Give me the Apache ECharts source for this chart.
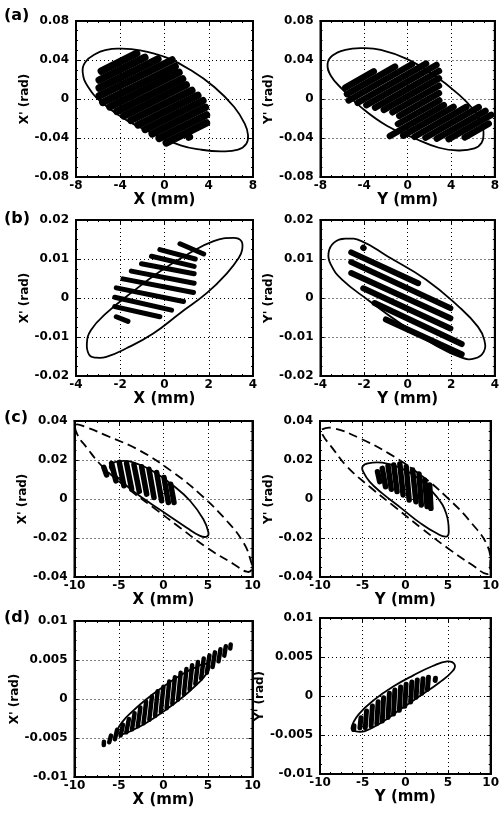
<!DOCTYPE html>
<html>
<head>
<meta charset="utf-8">
<script src="https://cdn.jsdelivr.net/npm/echarts@6/dist/echarts.min.js"></script>
<style>
html, body { margin: 0; background: #fff; }
#main { width: 502px; height: 813px; }
</style>
</head>
<body>
<div id="main"></div>
<script>
// tick values for each row of panels
var xTicksA = [-8, -4, 0, 4, 8];
var yTicksA = [-0.08, -0.04, 0, 0.04, 0.08];
var xTicksB = [-4, -2, 0, 2, 4];
var yTicksB = [-0.02, -0.01, 0, 0.01, 0.02];
var xTicksC = [-10, -5, 0, 5, 10];
var yTicksC = [-0.04, -0.02, 0, 0.02, 0.04];
var xTicksD = [-10, -5, 0, 5, 10];
var yTicksD = [-0.01, -0.005, 0, 0.005, 0.01];

// ellipse outlines, points read around the curve (mm, rad)
var ellipseAL = [[-4.2, 0.0516], [-2.2, 0.0499], [0.2, 0.0424], [2.4, 0.0294], [4.5, 0.0123], [6.3, -0.0082], [7.25, -0.0253], [7.55, -0.037], [7.4, -0.0458], [6.65, -0.052], [5.1, -0.0537], [3.3, -0.052], [1.45, -0.0475], [-1.0, -0.0356], [-3.4, -0.0219], [-5.55, -0.0048], [-6.9, 0.0123], [-7.4, 0.0277], [-7.15, 0.038], [-6.2, 0.0465], [-5.25, 0.0503]];
var ellipseAR = [[-4.24, 0.0521], [-2.46, 0.0504], [-0.09, 0.0411], [2.28, 0.0256], [4.65, 0.005], [6.13, -0.0122], [6.87, -0.0277], [6.96, -0.0363], [6.79, -0.0449], [6.13, -0.0507], [4.65, -0.0528], [2.87, -0.05], [0.5, -0.0397], [-1.87, -0.0277], [-4.24, -0.0088], [-6.01, 0.0102], [-7.05, 0.0239], [-7.35, 0.036], [-6.9, 0.0446], [-5.72, 0.0504]];
var ellipseBL = [[3.13, 0.0154], [3.47, 0.0146], [3.51, 0.0124], [3.36, 0.0103], [2.83, 0.0064], [1.92, 0.0013], [0.7, -0.0039], [-0.51, -0.0091], [-1.72, -0.0129], [-2.63, -0.0151], [-3.09, -0.0153], [-3.39, -0.0147], [-3.51, -0.0117], [-3.32, -0.0082], [-2.63, -0.0039], [-1.42, 0.0017], [-0.21, 0.0068], [1.01, 0.0111], [2.22, 0.0146]];
var ellipseBR = [[-3.63, 0.0116], [-3.38, 0.0142], [-2.86, 0.0152], [-2.12, 0.0146], [-0.93, 0.0107], [0.85, 0.0047], [2.34, -0.0022], [3.23, -0.0074], [3.52, -0.0108], [3.49, -0.0138], [3.08, -0.0155], [2.48, -0.0153], [1.15, -0.0117], [-0.34, -0.0065], [-1.82, -0.0005], [-3.01, 0.0047], [-3.53, 0.0086]];
var ellipseCLin = [[-6.02, 0.017], [-5.08, 0.0193], [-3.4, 0.0188], [-1.14, 0.0141], [1.11, 0.0068], [2.98, -0.0009], [4.48, -0.0104], [5.05, -0.0172], [4.86, -0.0193], [4.11, -0.0189], [2.61, -0.0147], [0.36, -0.0078], [-1.89, -0.0009], [-4.15, 0.0068], [-5.65, 0.0136]];
var ellipseCLout = [[-9.85, 0.0381], [-8.65, 0.0367], [-6.4, 0.0325], [-2.65, 0.0248], [1.11, 0.0136], [4.11, 0.0025], [7.11, -0.0112], [8.99, -0.0224], [9.81, -0.0318], [9.92, -0.0361], [9.36, -0.0373], [7.86, -0.0333], [4.86, -0.0249], [1.86, -0.0147], [-1.14, -0.0044], [-4.15, 0.0059], [-6.77, 0.0162], [-8.65, 0.0265], [-9.7, 0.0333]];
var ellipseCRin = [[-5.02, 0.0166], [-4.38, 0.0183], [-2.7, 0.0186], [-0.45, 0.0157], [1.8, 0.0097], [3.67, 0.0012], [4.79, -0.0074], [5.09, -0.0168], [4.79, -0.0193], [3.67, -0.0176], [1.8, -0.0125], [-0.45, -0.0048], [-2.7, 0.0029], [-4.19, 0.0089], [-4.94, 0.014]];
var ellipseCRout = [[-9.74, 0.0357], [-8.31, 0.0362], [-5.32, 0.0311], [-1.95, 0.0234], [1.8, 0.0123], [4.79, 0.0012], [7.79, -0.0125], [9.66, -0.0244], [9.95, -0.0347], [9.6, -0.0385], [7.9, -0.034], [4.9, -0.025], [1.9, -0.015], [-1.1, -0.0045], [-4.1, 0.006], [-6.8, 0.0165], [-8.7, 0.027], [-9.7, 0.033]];
var ellipseDL = [[-5.2, -0.0042], [-4.6, -0.0029], [-3.5, -0.0016], [-2.0, -0.0001], [0, 0.0016], [2.0, 0.0031], [3.5, 0.004], [4.6, 0.0045], [5.2, 0.0042], [4.6, 0.0029], [3.5, 0.0016], [2.0, 0.0001], [0, -0.0016], [-2.0, -0.0031], [-3.5, -0.004], [-4.6, -0.0045]];
var ellipseDR = [[-6.3, -0.00406], [-5.47, -0.00235], [-3.58, -0.00043], [-1.32, 0.00128], [0.94, 0.00265], [3.21, 0.00385], [4.91, 0.00444], [5.77, 0.00406], [5.55, 0.0032], [3.96, 0.00171], [1.7, 0], [-0.57, -0.00171], [-2.83, -0.00342], [-4.72, -0.00449], [-5.92, -0.00449]];

// beamlet streaks: [x1, y1, x2, y2]
var streaksAL = [[-5.71, 0.0287, -2.52, 0.0467], [-5.9, 0.0195, -1.78, 0.0426], [-5.9, 0.0113, -0.6, 0.041], [-5.9, 0.0031, 0.68, 0.04], [-5.58, -0.0034, 0.96, 0.0333], [-4.94, -0.008, 1.31, 0.0272], [-4.3, -0.0126, 1.63, 0.0207], [-3.67, -0.0172, 1.96, 0.0144], [-3.03, -0.0218, 2.47, 0.0089], [-2.39, -0.0265, 3.01, 0.0038], [-1.75, -0.0311, 3.47, -0.0018], [-1.11, -0.0357, 3.7, -0.0087], [-0.48, -0.0404, 3.79, -0.0164], [0.16, -0.045, 3.79, -0.0246], [2.2, -0.039, 2.25, -0.0388]];
var streaksAR = [[-5.72, 0.0117, -3.11, 0.0284], [-5.57, 0.005, -1.16, 0.0332], [-5.42, -0.0015, 0.39, 0.0356], [-4.59, -0.0039, 1.69, 0.0363], [-3.79, -0.0063, 2.64, 0.0349], [-2.99, -0.0088, 2.87, 0.0287], [-2.19, -0.0112, 2.87, 0.0212], [-1.39, -0.0136, 2.87, 0.0136], [-0.77, -0.0173, 2.87, 0.006], [-0.89, -0.0256, 2.9, -0.0015], [-1.63, -0.038, 3.32, -0.0063], [-0.41, -0.0376, 4.21, -0.0081], [0.62, -0.0387, 5.39, -0.0081], [1.63, -0.0397, 6.52, -0.0084], [2.67, -0.0407, 7.14, -0.0122], [3.76, -0.0411, 7.67, -0.0163], [5.24, -0.0394, 7.44, -0.0253]];
var streaksBL = [[-2.18, -0.0048, -1.65, -0.006], [-2.25, -0.0022, -0.21, -0.0048], [-2.25, 0.0002, 0.32, -0.0031], [-2.18, 0.0026, 0.86, -0.0009], [-1.88, 0.0049, 1.31, 0.0014], [-1.5, 0.0069, 1.34, 0.0038], [-1.04, 0.0088, 1.34, 0.0062], [-0.59, 0.0107, 1.34, 0.0081], [-0.21, 0.0124, 1.39, 0.01], [0.7, 0.0139, 1.77, 0.0113]];
var streaksBR = [[-2.59, 0.0117, 0.48, 0.0038], [-2.59, 0.0092, 1.96, -0.0026], [-2.59, 0.0064, 1.96, -0.0052], [-2.04, 0.0025, 1.96, -0.0078], [-1.52, -0.0013, 2.48, -0.0118], [-1.0, -0.0055, 2.48, -0.0144], [-2.04, 0.0129, -2.02, 0.0128]];
var streaksCL = [[-6.7, 0.0162, -6.4, 0.0124], [-5.83, 0.0182, -5.35, 0.0093], [-4.97, 0.0188, -4.45, 0.0068], [-4.15, 0.0182, -3.58, 0.0051], [-3.32, 0.0176, -2.72, 0.0039], [-2.46, 0.0165, -1.89, 0.0025], [-1.63, 0.0153, -1.07, 0.0008], [-0.77, 0.0136, -0.21, -0.0009], [0.06, 0.011, 0.54, -0.0018], [0.81, 0.0076, 1.18, -0.0018]];
var streaksCR = [[-3.26, 0.014, -3.0, 0.0089], [-2.7, 0.0157, -2.32, 0.0063], [-2.02, 0.0169, -1.65, 0.005], [-1.35, 0.0174, -0.97, 0.0038], [-0.64, 0.0179, -0.26, 0.0021], [0.11, 0.0166, 0.45, -0.0005], [0.86, 0.0149, 1.24, -0.0014], [1.61, 0.0128, 1.87, -0.0031], [2.28, 0.0097, 2.55, -0.0039], [2.85, 0.0072, 3.0, -0.0048]];
var streaksDL = [[-6.71, -0.0059, -6.69, -0.00548], [-6.1, -0.00555, -5.9, -0.00469], [-5.46, -0.00516, -5.22, -0.00396], [-4.82, -0.00467, -4.56, -0.00331], [-4.18, -0.00427, -3.89, -0.00257], [-3.54, -0.00389, -3.25, -0.00183], [-2.89, -0.0035, -2.6, -0.0011], [-2.24, -0.0031, -1.95, -0.00036], [-1.59, -0.00267, -1.3, 0.00033], [-0.95, -0.00218, -0.66, 0.00098], [-0.3, -0.00166, -0.01, 0.00158], [0.35, -0.00119, 0.64, 0.00223], [0.99, -0.00062, 1.28, 0.0028], [1.64, -0.00006, 1.93, 0.00336], [2.29, 0.0006, 2.58, 0.00384], [2.93, 0.00124, 3.22, 0.00432], [3.58, 0.00193, 3.87, 0.00475], [4.23, 0.00263, 4.52, 0.00519], [4.87, 0.00336, 5.16, 0.00558], [5.52, 0.0041, 5.78, 0.00598], [6.18, 0.00483, 6.4, 0.00637], [6.83, 0.00556, 7.0, 0.00676], [7.5, 0.00647, 7.55, 0.00699]];
var streaksDR = [[-6.05, -0.0043, -6.02, -0.0038], [-5.32, -0.00406, -5.2, -0.00278], [-4.69, -0.00406, -4.55, -0.00192], [-4.01, -0.00384, -3.86, -0.00128], [-3.34, -0.00355, -3.19, -0.00073], [-2.7, -0.00321, -2.55, -0.00021], [-2.02, -0.00274, -1.87, 0.00034], [-1.38, -0.00231, -1.23, 0.00077], [-0.7, -0.00184, -0.55, 0.00116], [-0.06, -0.00132, 0.09, 0.0015], [0.62, -0.00077, 0.76, 0.00179], [1.26, -0.00017, 1.4, 0.00205], [1.94, 0.00034, 2.07, 0.00222], [2.59, 0.00085, 2.71, 0.00239], [3.5, 0.002, 3.53, 0.00228]];

var panels = [
    {label: '(a)', xTicks: xTicksA, yTicks: yTicksA, xName: 'X (mm)', yName: "X' (rad)", ellipses: [ellipseAL], dashed: [], streaks: streaksAL, w: 7.5},
    {label: '',    xTicks: xTicksA, yTicks: yTicksA, xName: 'Y (mm)', yName: "Y' (rad)", ellipses: [ellipseAR], dashed: [], streaks: streaksAR, w: 6.5},
    {label: '(b)', xTicks: xTicksB, yTicks: yTicksB, xName: 'X (mm)', yName: "X' (rad)", ellipses: [ellipseBL], dashed: [], streaks: streaksBL, w: 5},
    {label: '',    xTicks: xTicksB, yTicks: yTicksB, xName: 'Y (mm)', yName: "Y' (rad)", ellipses: [ellipseBR], dashed: [], streaks: streaksBR, w: 6},
    {label: '(c)', xTicks: xTicksC, yTicks: yTicksC, xName: 'X (mm)', yName: "X' (rad)", ellipses: [ellipseCLin], dashed: [ellipseCLout], streaks: streaksCL, w: 5.5},
    {label: '',    xTicks: xTicksC, yTicks: yTicksC, xName: 'Y (mm)', yName: "Y' (rad)", ellipses: [ellipseCRin], dashed: [ellipseCRout], streaks: streaksCR, w: 5.5},
    {label: '(d)', xTicks: xTicksD, yTicks: yTicksD, xName: 'X (mm)', yName: "X' (rad)", ellipses: [ellipseDL], dashed: [], streaks: streaksDL, w: 4.5},
    {label: '',    xTicks: xTicksD, yTicks: yTicksD, xName: 'Y (mm)', yName: "Y' (rad)", ellipses: [ellipseDR], dashed: [], streaks: streaksDR, w: 5}
];

// plot box of each panel: left, top, width
var boxes = [[76, 21, 177], [320.5, 21, 178], [76, 220, 177], [320.5, 220, 178],
             [74.5, 421, 178], [320, 421, 178], [74.5, 621, 178], [320, 618, 178]];
var labelTops = [8, 211, 410, 610];

var FONT = 'DejaVu Sans';

function streakSeries(idx, list, w) {
    return {
        type: 'custom', coordinateSystem: 'cartesian2d', xAxisIndex: idx, yAxisIndex: idx,
        silent: true, animation: false, encode: {x: [0, 2], y: [1, 3]},
        data: list,
        renderItem: function (params, api) {
            var a = api.coord([api.value(0), api.value(1)]);
            var b = api.coord([api.value(2), api.value(3)]);
            return {type: 'line', shape: {x1: a[0], y1: a[1], x2: b[0], y2: b[1]},
                    style: {stroke: '#000', lineWidth: w, lineCap: 'round'}};
        }
    };
}

function ellipseSeries(idx, pts, dashed) {
    return {
        type: 'custom', coordinateSystem: 'cartesian2d', xAxisIndex: idx, yAxisIndex: idx,
        silent: true, animation: false,
        data: [pts[0]],
        renderItem: function (params, api) {
            var p = pts.map(function (d) { return api.coord(d); });
            return {type: 'polygon', shape: {points: p, smooth: 0.45},
                    style: {fill: 'none', stroke: '#000', lineWidth: 1.8, lineDash: dashed ? [9, 5] : null}};
        }
    };
}

var grids = [], xAxes = [], yAxes = [], series = [], titles = [];
var tickStyle = {color: '#000', width: 1};

panels.forEach(function (p, i) {
    var b = boxes[i];
    grids.push({left: b[0], top: b[1], width: b[2], height: 156, show: true, borderColor: '#000', borderWidth: 2});
    var xr = {min: p.xTicks[0], max: p.xTicks[p.xTicks.length - 1], interval: p.xTicks[1] - p.xTicks[0]};
    var yr = {min: p.yTicks[0], max: p.yTicks[p.yTicks.length - 1], interval: p.yTicks[1] - p.yTicks[0]};
    xAxes[i] = {
        gridIndex: i, type: 'value', position: 'bottom', min: xr.min, max: xr.max, interval: xr.interval,
        axisLine: {onZero: false, lineStyle: {color: '#000', width: 2}},
        axisTick: {inside: true, length: 4, lineStyle: tickStyle},
        minorTick: {show: true, splitNumber: 4, length: 2, lineStyle: tickStyle},
        axisLabel: {color: '#000', fontFamily: FONT, fontWeight: 'bold', fontSize: 12, margin: 3, showMinLabel: true, showMaxLabel: true},
        splitLine: {show: true, lineStyle: {color: '#000', width: 1, type: [1, 3]}},
        name: p.xName, nameLocation: 'middle', nameGap: 8,
        nameTextStyle: {color: '#000', fontFamily: FONT, fontWeight: 'bold', fontSize: 15, verticalAlign: 'top'}
    };
    yAxes[i] = {
        gridIndex: i, type: 'value', position: 'left', min: yr.min, max: yr.max, interval: yr.interval,
        axisLine: {onZero: false, lineStyle: {color: '#000', width: 2}},
        axisTick: {inside: true, length: 4, lineStyle: tickStyle},
        minorTick: {show: true, splitNumber: 4, length: 2, lineStyle: tickStyle},
        axisLabel: {color: '#000', fontFamily: FONT, fontWeight: 'bold', fontSize: 12, margin: 7, showMinLabel: true, showMaxLabel: true},
        splitLine: {show: true, lineStyle: {color: '#000', width: 1, type: [1, 3]}},
        name: p.yName, nameLocation: 'middle', nameGap: 45,
        nameTextStyle: {color: '#000', fontFamily: FONT, fontWeight: 'bold', fontSize: 12}
    };
    // ticks on top and right borders
    xAxes[8 + i] = {
        gridIndex: i, type: 'value', position: 'top', min: xr.min, max: xr.max, interval: xr.interval,
        axisLine: {onZero: false, lineStyle: {color: '#000', width: 2}},
        axisTick: {inside: true, length: 4, lineStyle: tickStyle},
        minorTick: {show: true, splitNumber: 4, length: 2, lineStyle: tickStyle},
        axisLabel: {show: false}, splitLine: {show: false}
    };
    yAxes[8 + i] = {
        gridIndex: i, type: 'value', position: 'right', min: yr.min, max: yr.max, interval: yr.interval,
        axisLine: {onZero: false, lineStyle: {color: '#000', width: 2}},
        axisTick: {inside: true, length: 4, lineStyle: tickStyle},
        minorTick: {show: true, splitNumber: 4, length: 2, lineStyle: tickStyle},
        axisLabel: {show: false}, splitLine: {show: false}
    };
    p.dashed.forEach(function (e) { series.push(ellipseSeries(i, e, true)); });
    p.ellipses.forEach(function (e) { series.push(ellipseSeries(i, e, false)); });
    series.push(streakSeries(i, p.streaks, p.w));
    if (p.label) {
        titles.push({text: p.label, left: 4, top: labelTops[i / 2], padding: 0,
                     textStyle: {color: '#000', fontFamily: FONT, fontWeight: 'bold', fontSize: 16}});
    }
});

var myChart = echarts.init(document.getElementById('main'));
myChart.setOption({
    backgroundColor: '#fff',
    animation: false,
    title: titles,
    grid: grids,
    xAxis: xAxes,
    yAxis: yAxes,
    series: series
});
</script>
</body>
</html>
